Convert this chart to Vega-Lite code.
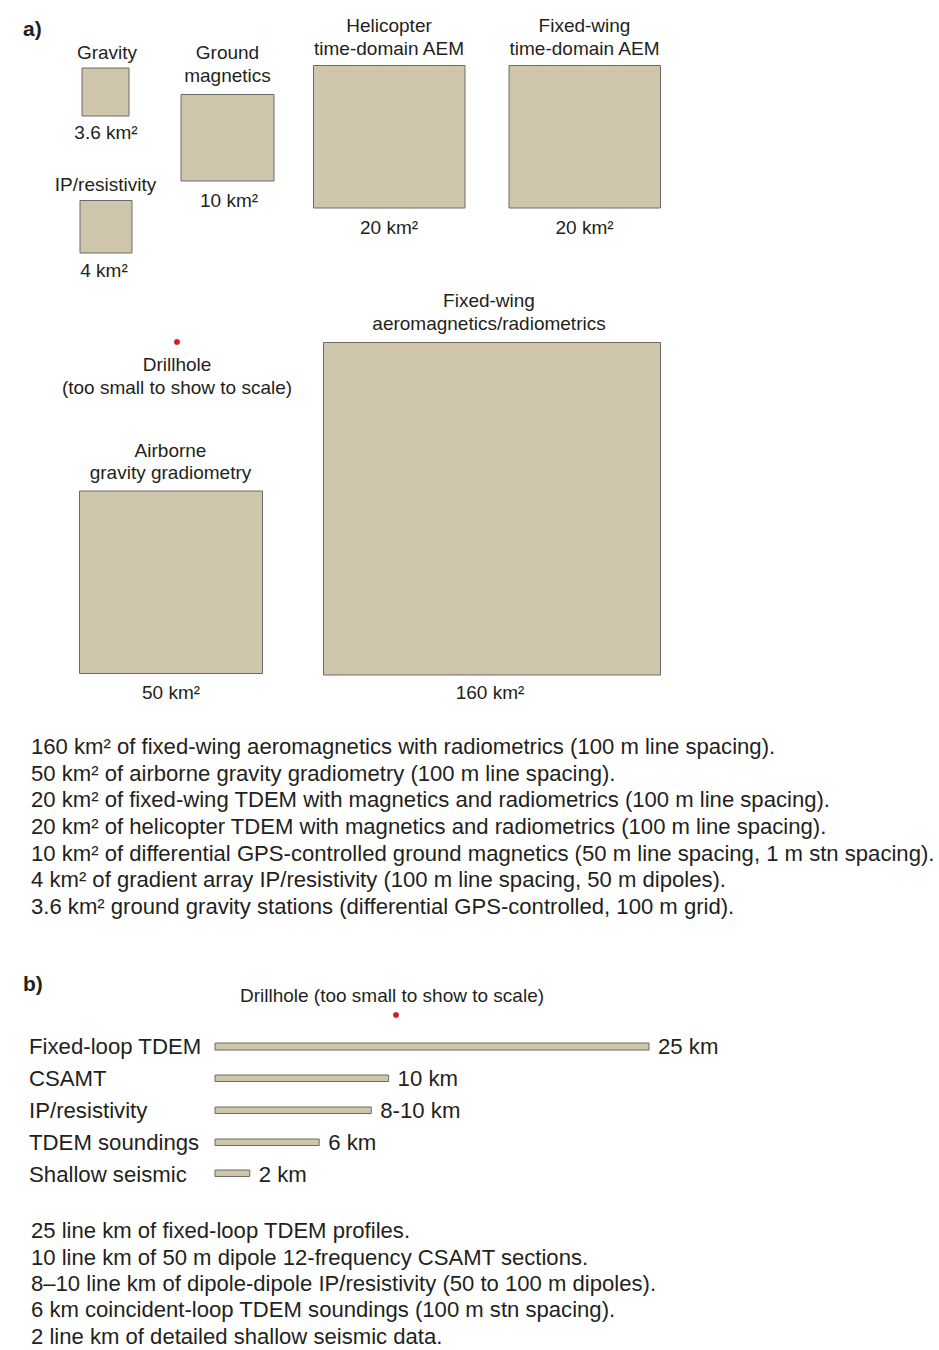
{
  "$schema": "https://vega.github.io/schema/vega-lite/v6.json",
  "width": 939,
  "height": 1350,
  "autosize": {"type": "fit", "contains": "padding"},
  "padding": 0,
  "background": "white",
  "config": {"view": {"stroke": null}, "text": {"font": "Liberation Sans", "fill": "#231f20"}},
  "datasets": {
    "squares": [
      {"survey": "Gravity", "left": 82, "right": 129, "top": 68, "bottom": 116},
      {"survey": "Ground magnetics", "left": 181, "right": 274, "top": 94.5, "bottom": 181},
      {"survey": "IP/resistivity", "left": 80, "right": 132, "top": 200.5, "bottom": 253},
      {"survey": "Helicopter time-domain AEM", "left": 313.5, "right": 465, "top": 65.5, "bottom": 208},
      {"survey": "Fixed-wing time-domain AEM", "left": 509, "right": 660.5, "top": 65.5, "bottom": 208},
      {"survey": "Airborne gravity gradiometry", "left": 79.5, "right": 262.5, "top": 491, "bottom": 673.5},
      {"survey": "Fixed-wing aeromagnetics/radiometrics", "left": 323.5, "right": 660.5, "top": 342.5, "bottom": 675}
    ],
    "drillholes": [
      {"panel": "a", "cx": 177, "cy": 342},
      {"panel": "b", "cx": 396, "cy": 1015}
    ],
    "names": [
      {"text": "Gravity", "cx": 107, "cy": 59},
      {"text": "Ground", "cx": 227.5, "cy": 59},
      {"text": "magnetics", "cx": 227.5, "cy": 82},
      {"text": "IP/resistivity", "cx": 105.5, "cy": 190.5},
      {"text": "Helicopter", "cx": 389, "cy": 32},
      {"text": "time-domain AEM", "cx": 389, "cy": 55},
      {"text": "Fixed-wing", "cx": 584.5, "cy": 32},
      {"text": "time-domain AEM", "cx": 584.5, "cy": 55},
      {"text": "Fixed-wing", "cx": 489, "cy": 307},
      {"text": "aeromagnetics/radiometrics", "cx": 489, "cy": 330},
      {"text": "Drillhole", "cx": 177, "cy": 371},
      {"text": "(too small to show to scale)", "cx": 177, "cy": 394},
      {"text": "Airborne", "cx": 170.5, "cy": 457},
      {"text": "gravity gradiometry", "cx": 170.5, "cy": 479},
      {"text": "3.6 km²", "cx": 106, "cy": 139},
      {"text": "10 km²", "cx": 229, "cy": 207},
      {"text": "4 km²", "cx": 104, "cy": 277},
      {"text": "20 km²", "cx": 389, "cy": 234},
      {"text": "20 km²", "cx": 584.5, "cy": 234},
      {"text": "50 km²", "cx": 171, "cy": 699},
      {"text": "160 km²", "cx": 490, "cy": 699},
      {"text": "Drillhole (too small to show to scale)", "cx": 392, "cy": 1002}
    ],
    "panelTags": [
      {"text": "a)", "cx": 23, "cy": 36},
      {"text": "b)", "cx": 23, "cy": 991}
    ],
    "notes": [
      {"text": "160 km² of fixed-wing aeromagnetics with radiometrics (100 m line spacing).", "cx": 31, "cy": 754},
      {"text": "50 km² of airborne gravity gradiometry (100 m line spacing).", "cx": 31, "cy": 781},
      {"text": "20 km² of fixed-wing TDEM with magnetics and radiometrics (100 m line spacing).", "cx": 31, "cy": 807},
      {"text": "20 km² of helicopter TDEM with magnetics and radiometrics (100 m line spacing).", "cx": 31, "cy": 834},
      {"text": "10 km² of differential GPS-controlled ground magnetics (50 m line spacing, 1 m stn spacing).", "cx": 31, "cy": 861},
      {"text": "4 km² of gradient array IP/resistivity (100 m line spacing, 50 m dipoles).", "cx": 31, "cy": 887},
      {"text": "3.6 km² ground gravity stations (differential GPS-controlled, 100 m grid).", "cx": 31, "cy": 914},
      {"text": "25 line km of fixed-loop TDEM profiles.", "cx": 31, "cy": 1238},
      {"text": "10 line km of 50 m dipole 12-frequency CSAMT sections.", "cx": 31, "cy": 1265},
      {"text": "8–10 line km of dipole-dipole IP/resistivity (50 to 100 m dipoles).", "cx": 31, "cy": 1291},
      {"text": "6 km coincident-loop TDEM soundings (100 m stn spacing).", "cx": 31, "cy": 1317},
      {"text": "2 line km of detailed shallow seismic data.", "cx": 31, "cy": 1344}
    ],
    "lines": [
      {"method": "Fixed-loop TDEM", "km": 25, "label": "25 km", "top": 1043, "bottom": 1050, "base": 1054},
      {"method": "CSAMT", "km": 10, "label": "10 km", "top": 1075, "bottom": 1081.5, "base": 1086},
      {"method": "IP/resistivity", "km": 9, "label": "8-10 km", "top": 1107, "bottom": 1113.5, "base": 1118},
      {"method": "TDEM soundings", "km": 6, "label": "6 km", "top": 1139, "bottom": 1145.5, "base": 1150},
      {"method": "Shallow seismic", "km": 2, "label": "2 km", "top": 1170, "bottom": 1176.5, "base": 1182}
    ]
  },
  "resolve": {"scale": {"x": "independent"}},
  "layer": [
    {
      "data": {"name": "squares"},
      "mark": {"type": "rect", "fill": "#cfc5ab", "stroke": "#6a6a6a", "strokeWidth": 1},
      "encoding": {
        "x": {"field": "left", "type": "quantitative", "scale": {"domain": [0, 939], "nice": false, "zero": false}, "axis": null},
        "x2": {"field": "right"},
        "y": {"field": "top", "type": "quantitative", "scale": {"domain": [0, 1350], "nice": false, "zero": false, "reverse": true}, "axis": null},
        "y2": {"field": "bottom"}
      }
    },
    {
      "data": {"name": "lines"},
      "mark": {"type": "rect", "fill": "#cfc5ab", "stroke": "#6a6a6a", "strokeWidth": 1},
      "encoding": {
        "x": {"field": "km", "type": "quantitative", "scale": {"domain": [-12.385, 41.705], "nice": false, "zero": false}, "axis": null},
        "x2": {"datum": 0},
        "y": {"field": "top", "type": "quantitative", "axis": null},
        "y2": {"field": "bottom"}
      }
    },
    {
      "data": {"name": "lines"},
      "mark": {"type": "text", "align": "left", "baseline": "alphabetic", "fontSize": 22.2, "dx": 9},
      "encoding": {
        "x": {"field": "km", "type": "quantitative", "scale": {"domain": [-12.385, 41.705], "nice": false, "zero": false}, "axis": null},
        "y": {"field": "base", "type": "quantitative", "axis": null},
        "text": {"field": "label"}
      }
    },
    {
      "data": {"name": "lines"},
      "mark": {"type": "text", "align": "left", "baseline": "alphabetic", "fontSize": 22.2, "x": 29},
      "encoding": {
        "y": {"field": "base", "type": "quantitative", "axis": null},
        "text": {"field": "method"}
      }
    },
    {
      "data": {"name": "drillholes"},
      "mark": {"type": "point", "shape": "circle", "filled": true, "fill": "#e8141c", "stroke": "#9a3a3a", "strokeWidth": 0.5, "size": 30, "opacity": 1},
      "encoding": {
        "x": {"field": "cx", "type": "quantitative", "scale": {"domain": [0, 939], "nice": false, "zero": false}, "axis": null},
        "y": {"field": "cy", "type": "quantitative", "axis": null}
      }
    },
    {
      "data": {"name": "names"},
      "mark": {"type": "text", "align": "center", "baseline": "alphabetic", "fontSize": 19},
      "encoding": {
        "x": {"field": "cx", "type": "quantitative", "scale": {"domain": [0, 939], "nice": false, "zero": false}, "axis": null},
        "y": {"field": "cy", "type": "quantitative", "axis": null},
        "text": {"field": "text"}
      }
    },
    {
      "data": {"name": "panelTags"},
      "mark": {"type": "text", "align": "left", "baseline": "alphabetic", "fontSize": 21, "fontWeight": "bold"},
      "encoding": {
        "x": {"field": "cx", "type": "quantitative", "scale": {"domain": [0, 939], "nice": false, "zero": false}, "axis": null},
        "y": {"field": "cy", "type": "quantitative", "axis": null},
        "text": {"field": "text"}
      }
    },
    {
      "data": {"name": "notes"},
      "mark": {"type": "text", "align": "left", "baseline": "alphabetic", "fontSize": 22.1},
      "encoding": {
        "x": {"field": "cx", "type": "quantitative", "scale": {"domain": [0, 939], "nice": false, "zero": false}, "axis": null},
        "y": {"field": "cy", "type": "quantitative", "axis": null},
        "text": {"field": "text"}
      }
    }
  ]
}
